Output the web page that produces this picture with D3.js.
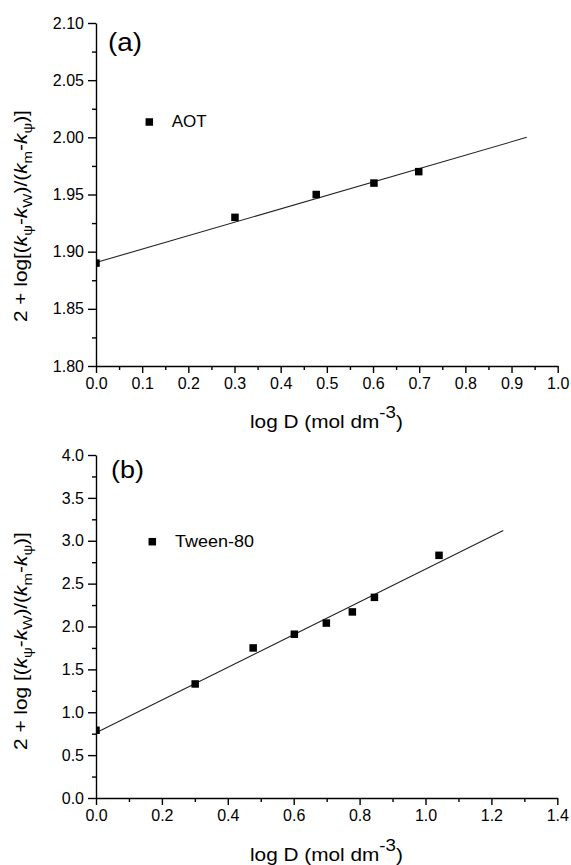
<!DOCTYPE html>
<html>
<head>
<meta charset="utf-8">
<script src="https://cdn.jsdelivr.net/npm/d3@7/dist/d3.min.js"></script>
<style>
  html, body { margin: 0; padding: 0; background: #fff; }
  svg { display: block; }
  text { font-family: "Liberation Sans", Arial, sans-serif; fill: #000; }
</style>
</head>
<body>
<svg id="chart" width="571" height="865"></svg>
<script>
// ---------- data ----------
const aotX = [0, 0.301, 0.477, 0.602, 0.699];
const aotY = [1.89, 1.93, 1.95, 1.96, 1.97];
const aotFitX = [0, 0.933];
const aotFitY = [1.8905, 2.000];

const tweenX = [0, 0.301, 0.477, 0.602, 0.699, 0.778, 0.845, 1.041];
const tweenY = [0.79, 1.33, 1.75, 1.91, 2.04, 2.17, 2.34, 2.83];
const tweenFitX = [0, 1.236];
const tweenFitY = [0.76, 3.12];

const topXTicks = [0, 0.1, 0.2, 0.3, 0.4, 0.5, 0.6, 0.7, 0.8, 0.9, 1.0];
const topXMinor = [0.05, 0.15, 0.25, 0.35, 0.45, 0.55, 0.65, 0.75, 0.85, 0.95];
const topYTicks = [1.80, 1.85, 1.90, 1.95, 2.00, 2.05, 2.10];
const topYMinor = [1.825, 1.875, 1.925, 1.975, 2.025, 2.075];
const botXTicks = [0, 0.2, 0.4, 0.6, 0.8, 1.0, 1.2, 1.4];
const botXMinor = [0.1, 0.3, 0.5, 0.7, 0.9, 1.1, 1.3];
const botYTicks = [0, 0.5, 1.0, 1.5, 2.0, 2.5, 3.0, 3.5, 4.0];
const botYMinor = [0.25, 0.75, 1.25, 1.75, 2.25, 2.75, 3.25, 3.75];

const legendA = "AOT";
const legendB = "Tween-80";
const panelA = "(a)";
const panelB = "(b)";

const yTitleA = [
  {t: "2 + log[("}, {t: "k", i: true}, {t: "ψ", sub: true}, {t: "-"},
  {t: "k", i: true}, {t: "W", sub: true}, {t: ")/("},
  {t: "k", i: true}, {t: "m", sub: true}, {t: "-"},
  {t: "k", i: true}, {t: "ψ", sub: true}, {t: ")]"}
];
const yTitleB = [
  {t: "2 + log [("}, {t: "k", i: true}, {t: "ψ", sub: true}, {t: "-"},
  {t: "k", i: true}, {t: "W", sub: true}, {t: ")/("},
  {t: "k", i: true}, {t: "m", sub: true}, {t: "-"},
  {t: "k", i: true}, {t: "ψ", sub: true}, {t: ")]"}
];
const xTitle = [{t: "log D (mol dm"}, {t: "-3", sup: true}, {t: ")"}];

// ---------- drawing ----------
const svg = d3.select("#chart");

function richText(parent, pieces, size, subSize, subShift, supShift) {
  const text = parent.append("text").attr("x", 0).attr("y", 0)
    .style("font-size", size + "px");
  let cur = 0;
  pieces.forEach(p => {
    let target = 0;
    if (p.sub) target = subShift;
    if (p.sup) target = -supShift;
    const ts = text.append("tspan").text(p.t).attr("dy", target - cur);
    cur = target;
    if (p.i) ts.style("font-style", "italic");
    if (p.sub || p.sup) ts.style("font-size", (p.sup ? size * 0.9 : subSize) + "px");
  });
  return text;
}

function fitLen(text, target) {
  const w = text.node().getComputedTextLength();
  text.attr("transform", `scale(${target / w},1)`);
}

function panel(cfg) {
  const x = d3.scaleLinear().domain(cfg.xDom).range([cfg.left, cfg.right]);
  const y = d3.scaleLinear().domain(cfg.yDom).range([cfg.bottom, cfg.top]);
  const g = svg.append("g");

  // minor ticks
  g.append("g").attr("transform", `translate(0,${cfg.bottom})`)
    .call(d3.axisBottom(x).tickValues(cfg.xMinor).tickSize(4).tickFormat(""))
    .call(s => s.select(".domain").remove());
  g.append("g").attr("transform", `translate(${cfg.left},0)`)
    .call(d3.axisLeft(y).tickValues(cfg.yMinor).tickSize(4).tickFormat(""))
    .call(s => s.select(".domain").remove());

  // major axes
  const xa = g.append("g").attr("transform", `translate(0,${cfg.bottom})`)
    .call(d3.axisBottom(x).tickValues(cfg.xTicks).tickSize(7).tickSizeOuter(0)
      .tickPadding(5).tickFormat(d3.format(cfg.xFmt)));
  const ya = g.append("g").attr("transform", `translate(${cfg.left},0)`)
    .call(d3.axisLeft(y).tickValues(cfg.yTicks).tickSize(8).tickSizeOuter(0)
      .tickPadding(4).tickFormat(d3.format(cfg.yFmt)));
  [xa, ya].forEach(a => {
    a.selectAll("text").style("font-size", "16px").style("font-family", '"Liberation Sans", Arial, sans-serif').attr("fill", "#000");
  });
  g.selectAll(".domain, .tick line").attr("stroke", "#000").attr("stroke-width", 1.4);

  // fit line
  g.append("line")
    .attr("x1", x(cfg.fitX[0])).attr("y1", y(cfg.fitY[0]))
    .attr("x2", x(cfg.fitX[1])).attr("y2", y(cfg.fitY[1]))
    .attr("stroke", "#222").attr("stroke-width", 1.1);

  // points, clipped to plot area
  const cid = "clip" + cfg.id;
  svg.append("clipPath").attr("id", cid).append("rect")
    .attr("x", cfg.left).attr("y", cfg.top - 10)
    .attr("width", cfg.right - cfg.left + 10).attr("height", cfg.bottom - cfg.top + 10);
  const ms = 7.5;
  g.append("g").attr("clip-path", `url(#${cid})`)
    .selectAll("rect").data(cfg.xs.map((v, i) => [v, cfg.ys[i]])).join("rect")
    .attr("x", d => x(d[0]) - ms / 2).attr("y", d => y(d[1]) - ms / 2)
    .attr("width", ms).attr("height", ms).attr("fill", "#000");

  // legend
  g.append("rect").attr("x", cfg.legX - ms / 2).attr("y", cfg.legY - ms / 2)
    .attr("width", ms).attr("height", ms).attr("fill", "#000");
  const lg = g.append("g").attr("transform", `translate(${cfg.legTX},${cfg.legTY})`);
  const lt = lg.append("text").text(cfg.legend).style("font-size", "16px");
  fitLen(lt, cfg.legW);

  // panel label
  const pg = g.append("g").attr("transform", `translate(${cfg.pX},${cfg.pY})`);
  const pt = pg.append("text").text(cfg.plabel).style("font-size", cfg.pSize + "px");
  fitLen(pt, cfg.pW);

  // x title
  const xg = g.append("g").attr("transform", `translate(250,${cfg.xTitleY})`);
  const xt = richText(xg, xTitle, 19, 14, 4, 10);
  fitLen(xt, 153);

  // y title
  const yg = g.append("g").attr("transform", `translate(27,${cfg.yTitleC}) rotate(-90)`);
  const yt = richText(yg, cfg.yTitle, 18, 13, 4.5, 0);
  const w = yt.node().getComputedTextLength();
  yt.attr("transform", `scale(${cfg.yTitleLen / w},1) translate(${-w / 2},0)`);
}

panel({
  id: "a", xDom: [0, 1.0], yDom: [1.80, 2.10],
  left: 96, right: 557.7, top: 23, bottom: 366,
  xTicks: topXTicks, xMinor: topXMinor, yTicks: topYTicks, yMinor: topYMinor,
  xFmt: ".1f", yFmt: ".2f",
  xs: aotX, ys: aotY, fitX: aotFitX, fitY: aotFitY,
  legX: 149.3, legY: 122, legTX: 171.7, legTY: 127.3, legW: 35, legend: legendA,
  pX: 108, pY: 50.5, pSize: 26, pW: 34, plabel: panelA,
  xTitleY: 428.3, yTitle: yTitleA, yTitleC: 216, yTitleLen: 212
});

panel({
  id: "b", xDom: [0, 1.4], yDom: [0, 4.0],
  left: 96, right: 557.3, top: 455, bottom: 798,
  xTicks: botXTicks, xMinor: botXMinor, yTicks: botYTicks, yMinor: botYMinor,
  xFmt: ".1f", yFmt: ".1f",
  xs: tweenX, ys: tweenY, fitX: tweenFitX, fitY: tweenFitY,
  legX: 152.3, legY: 541.7, legTX: 175, legTY: 547.3, legW: 79, legend: legendB,
  pX: 111, pY: 477.5, pSize: 24, pW: 33, plabel: panelB,
  xTitleY: 860.5, yTitle: yTitleB, yTitleC: 641, yTitleLen: 218
});
</script>
</body>
</html>
